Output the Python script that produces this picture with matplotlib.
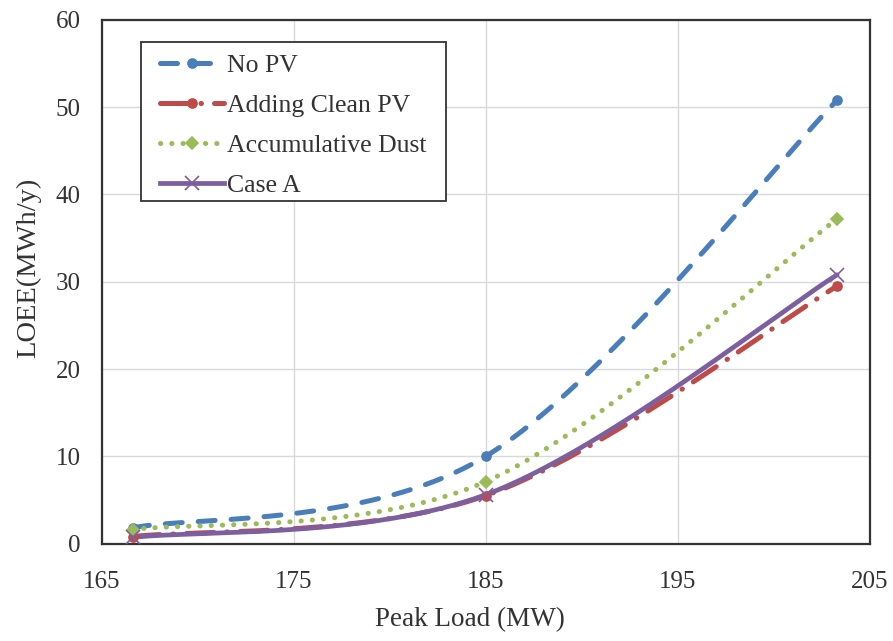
import numpy as np
import matplotlib
matplotlib.use("Agg")
import matplotlib.pyplot as plt
from matplotlib.lines import Line2D
from matplotlib.patches import Rectangle

plt.rcParams['font.family'] = ['Liberation Serif', 'DejaVu Serif']

peak_load = [166.6, 185.0, 203.3]
no_pv = [1.8, 10.0, 50.8]
clean_pv = [0.8, 5.5, 29.5]
dust = [1.6, 7.1, 37.2]
case_a = [0.7, 5.6, 30.8]

series_names = ["No PV", "Adding Clean PV", "Accumulative Dust", "Case A"]


def smooth(xs, ys, n=80):
    """Cubic Bezier smoothing through the points (spreadsheet-style)."""
    pts = np.column_stack([xs, ys]).astype(float)
    out = []
    for i in range(len(pts) - 1):
        p0 = pts[i - 1] if i > 0 else pts[i]
        p1, p2 = pts[i], pts[i + 1]
        p3 = pts[i + 2] if i + 2 < len(pts) else pts[i + 1]
        c1 = p1 + (p2 - p0) / 6.0
        c2 = p2 - (p3 - p1) / 6.0
        t = np.linspace(0, 1, n)[:, None]
        seg = ((1 - t) ** 3) * p1 + 3 * ((1 - t) ** 2) * t * c1 \
            + 3 * (1 - t) * t ** 2 * c2 + t ** 3 * p2
        out.append(seg if i == 0 else seg[1:])
    s = np.vstack(out)
    return s[:, 0], s[:, 1]


fig = plt.figure(figsize=(8.93, 6.41), dpi=100)
ax = fig.add_axes([0.114, 0.152, 0.860, 0.817])

blue = "#4A7EBB"
red = "#BE4B48"
green = "#9BBB59"
purple = "#7D5FA0"

styles = [
    (no_pv, blue, (0, (3.4, 3.2)), 'o', 3.6, 6.5),
    (clean_pv, red, (0, (5.5, 2.6, 0.1, 2.6)), 'o', 3.6, 6.5),
    (dust, green, (0, (0.05, 2.2)), 'D', 3.6, 6.5),
    (case_a, purple, '-', 'x', 3.4, 10),
]

handles = []
for (vals, col, ls, mk, lw, ms), name in zip(styles, series_names):
    sx, sy = smooth(peak_load, vals)
    ax.plot(sx, sy, color=col, lw=lw, ls=ls, dash_capstyle='round',
            solid_capstyle='round', zorder=3)
    ax.plot(peak_load, vals, ls='none', marker=mk, color=col, ms=ms,
            mew=1.2, zorder=4)
    handles.append(Line2D([], [], color=col, lw=lw, ls=ls, marker=mk,
                          ms=ms, mew=1.2, dash_capstyle='round'))

ax.set_xlim(165, 205)
ax.set_ylim(0, 60)
ax.set_xticks([165, 175, 185, 195, 205])
ax.set_yticks(range(0, 61, 10))
ax.grid(True, color="#D9D9D9", lw=1.0)
ax.set_axisbelow(True)
for sp in ax.spines.values():
    sp.set_color("#333333")
    sp.set_linewidth(1.6)
ax.tick_params(length=0, labelsize=18, colors="#333333")
ax.tick_params(axis='x', pad=20)
ax.tick_params(axis='y', pad=15)

ax.set_xlabel("Peak Load (MW)", fontsize=19.5, color="#333333")
ax.xaxis.set_label_coords(0.48, -0.122)
ax.set_ylabel("LOEE(MWh/y)", fontsize=20.5, color="#333333")
ax.yaxis.set_label_coords(-0.079, 0.526)

# legend frame
ax.add_patch(Rectangle((0.0508, 0.654), 0.397, 0.304, transform=ax.transAxes,
                       facecolor="white", edgecolor="#333333", lw=1.3,
                       zorder=5))
leg = ax.legend(handles, series_names, loc='upper left',
                bbox_to_anchor=(0.0755, 0.935), fontsize=18.5, frameon=False,
                handlelength=2.5, handletextpad=0.12, borderpad=0,
                labelspacing=0.66, borderaxespad=0)
leg.set_zorder(6)
for t in leg.get_texts():
    t.set_color("#333333")

fig.savefig("out.png", dpi=100, facecolor="white")
